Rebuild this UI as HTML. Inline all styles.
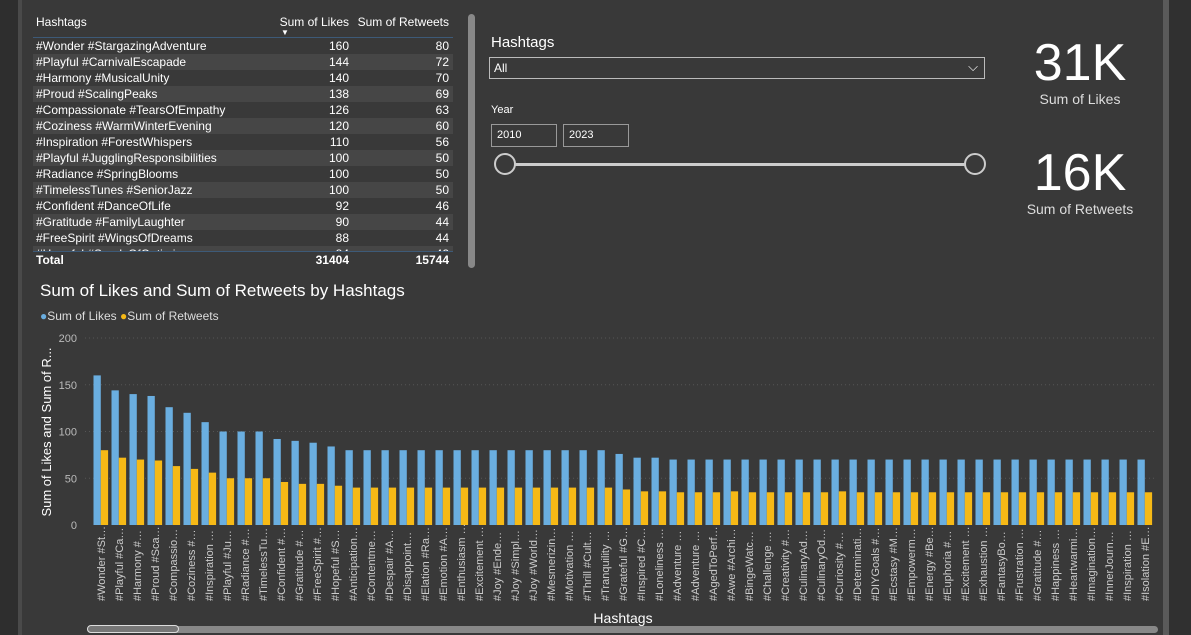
<!DOCTYPE html>
<html><head><meta charset="utf-8"><style>
*{margin:0;padding:0;box-sizing:border-box}
body{width:1191px;height:635px;background:#393939;font-family:"Liberation Sans",Arial,sans-serif;color:#fff;position:relative;overflow:hidden}
.abs{position:absolute}
.row{position:absolute;left:33px;width:420px;height:16px;font-size:12px;line-height:16px}
.row span{position:absolute}
.c1{left:3px}.c2{right:104px}.c3{right:4px}
</style></head><body>
<div class="abs" style="left:0;top:0;width:22px;height:635px;background:#2e2e2e;border-right:4px solid #4a4a4a"></div>
<div class="abs" style="left:1163px;top:0;width:28px;height:635px;background:#303030;border-left:6px solid #5a5a5a"></div>

<div>
<div class="row" style="top:14px;height:24px;border-bottom:1px solid #3d5a78"><span class="c1">Hashtags</span><span class="c2">Sum of Likes</span><span class="c3">Sum of Retweets</span><span style="left:248px;top:11px;font-size:8px">▼</span></div>
<div id="rows"></div>
<div class="row" style="top:251px;font-weight:bold;border-top:1px solid #3d5a78;background:#393939"><span class="c1">Total</span><span class="c2">31404</span><span class="c3">15744</span></div>
</div>
<div class="abs" style="left:468px;top:14px;width:7px;height:254px;background:#888;border-radius:4px"></div>

<div class="abs" style="left:491px;top:34px;font-size:15px">Hashtags</div>
<div class="abs" style="left:489px;top:57px;width:496px;height:22px;border:1px solid #bbb;font-size:12px;line-height:20px;padding-left:4px">All<span style="position:absolute;right:6px;top:-1px;font-size:13px">⌵</span></div>
<div class="abs" style="left:491px;top:104px;font-size:11px">Year</div>
<div class="abs" style="left:491px;top:124px;width:66px;height:23px;border:1px solid #999;font-size:11px;line-height:21px;padding-left:5px">2010</div>
<div class="abs" style="left:563px;top:124px;width:66px;height:23px;border:1px solid #999;font-size:11px;line-height:21px;padding-left:5px">2023</div>
<div class="abs" style="left:505px;top:163px;width:470px;height:3px;background:#ccc"></div>
<div class="abs" style="left:494px;top:153px;width:22px;height:22px;border:2px solid #ccc;border-radius:50%;background:#393939"></div>
<div class="abs" style="left:964px;top:153px;width:22px;height:22px;border:2px solid #ccc;border-radius:50%;background:#393939"></div>

<div class="abs" style="left:980px;top:34px;width:200px;text-align:center;font-size:52px;line-height:58px">31K</div>
<div class="abs" style="left:980px;top:91px;width:200px;text-align:center;font-size:14px;color:#ddd">Sum of Likes</div>
<div class="abs" style="left:980px;top:144px;width:200px;text-align:center;font-size:52px;line-height:58px">16K</div>
<div class="abs" style="left:980px;top:201px;width:200px;text-align:center;font-size:14px;color:#ddd">Sum of Retweets</div>

<div class="abs" style="left:40px;top:281px;font-size:17px">Sum of Likes and Sum of Retweets by Hashtags</div>
<div class="abs" style="left:40px;top:309px;font-size:12px;color:#ddd">
<span><span style="color:#6aaee0">●</span>Sum of Likes</span>
<span><span style="color:#f6b916">●</span>Sum of Retweets</span></div>

<svg class="abs" style="left:0;top:0" width="1191" height="635" id="chart"></svg>
<div class="abs" style="left:87px;top:626px;width:1071px;height:7px;background:#888;border-radius:4px"></div>
<div class="abs" style="left:87px;top:625px;width:92px;height:8px;background:#777;border:1px solid #ddd;border-radius:4px"></div>

<script>
const tableNames=["#Wonder #StargazingAdventure","#Playful #CarnivalEscapade","#Harmony #MusicalUnity","#Proud #ScalingPeaks","#Compassionate #TearsOfEmpathy","#Coziness #WarmWinterEvening","#Inspiration #ForestWhispers","#Playful #JugglingResponsibilities","#Radiance #SpringBlooms","#TimelessTunes #SeniorJazz","#Confident #DanceOfLife","#Gratitude #FamilyLaughter","#FreeSpirit #WingsOfDreams","#Hopeful #SeedsOfOptimism"];
const categories=["#Wonder #St…","#Playful #Ca…","#Harmony #…","#Proud #Sca…","#Compassio…","#Coziness #…","#Inspiration …","#Playful #Ju…","#Radiance #…","#TimelessTu…","#Confident #…","#Gratitude #…","#FreeSpirit #…","#Hopeful #S…","#Anticipation…","#Contentme…","#Despair #A…","#Disappoint…","#Elation #Ra…","#Emotion #A…","#Enthusiasm …","#Excitement …","#Joy #Ende…","#Joy #Simpl…","#Joy #World…","#Mesmerizin…","#Motivation …","#Thrill #Cult…","#Tranquility …","#Grateful #G…","#Inspired #C…","#Loneliness …","#Adventure …","#Adventure …","#AgedToPerf…","#Awe #Archi…","#BingeWatc…","#Challenge …","#Creativity #…","#CulinaryAd…","#CulinaryOd…","#Curiosity #…","#Determinati…","#DIYGoals #…","#Ecstasy #M…","#Empowerm…","#Energy #Be…","#Euphoria #…","#Excitement …","#Exhaustion …","#FantasyBo…","#Frustration …","#Gratitude #…","#Happiness …","#Heartwarmi…","#Imagination…","#InnerJourn…","#Inspiration …","#Isolation #E…"];
const likes=[160,144,140,138,126,120,110,100,100,100,92,90,88,84,80,80,80,80,80,80,80,80,80,80,80,80,80,80,80,76,72,72,70,70,70,70,70,70,70,70,70,70,70,70,70,70,70,70,70,70,70,70,70,70,70,70,70,70,70];
const retweets=[80,72,70,69,63,60,56,50,50,50,46,44,44,42,40,40,40,40,40,40,40,40,40,40,40,40,40,40,40,38,36,36,35,35,35,36,35,35,35,35,35,36,35,35,35,35,35,35,35,35,35,35,35,35,35,35,35,35,35];
const yTicks=[0,50,100,150,200];

const rows=document.getElementById('rows');
tableNames.forEach((n,i)=>{
  const r=document.createElement('div');
  r.className='row';
  
  
  r.style.top=(38+16*i)+'px';
  if(i%2==1) r.style.background='#464646';
  r.innerHTML='<span class="c1">'+n+'</span><span class="c2">'+likes[i]+'</span><span class="c3">'+retweets[i]+'</span>';
  rows.appendChild(r);
});

const svg=document.getElementById('chart');
const NS='http://www.w3.org/2000/svg';
const y0=525,y1=338,ymax=200,x0=93.5,step=18.0,bw=7.3;
const Y=v=>y0-(v/ymax)*(y0-y1);
const X=i=>x0+i*step;
function mk(t,a){const e=document.createElementNS(NS,t);for(const k in a)e.setAttribute(k,a[k]);svg.appendChild(e);return e;}
yTicks.forEach(t=>{
  if(t>0){const g=mk('line',{x1:85,x2:1155,y1:Y(t),y2:Y(t),stroke:'#555','stroke-dasharray':'1,3'});
  
  }
  const tx=mk('text',{x:77,y:Y(t)+4,'text-anchor':'end',fill:'#bbb','font-size':11,'font-family':'Liberation Sans'});
  
  
  tx.textContent=t;
});
categories.forEach((c,i)=>{
  const b=mk('rect',{x:X(i),y:Y(likes[i]),width:bw,height:y0-Y(likes[i]),fill:'#6aaee0'});
  
  
  const r=mk('rect',{x:X(i)+bw,y:Y(retweets[i]),width:bw,height:y0-Y(retweets[i]),fill:'#f6b916'});
  
  
  const cx=X(i)+bw+4;
  const t=mk('text',{x:0,y:0,transform:'translate('+cx+',601) rotate(-90)','text-anchor':'start',fill:'#ccc','font-size':11,'font-family':'Liberation Sans'});
  
  
  t.textContent=c;
});
const yt=mk('text',{transform:'translate(51,432) rotate(-90)','text-anchor':'middle',fill:'#fff','font-size':13,'font-family':'Liberation Sans'});


yt.textContent='Sum of Likes and Sum of R...';
const xt=mk('text',{x:623,y:623,'text-anchor':'middle',fill:'#fff','font-size':14,'font-family':'Liberation Sans'});


xt.textContent='Hashtags';
</script>
</body></html>
